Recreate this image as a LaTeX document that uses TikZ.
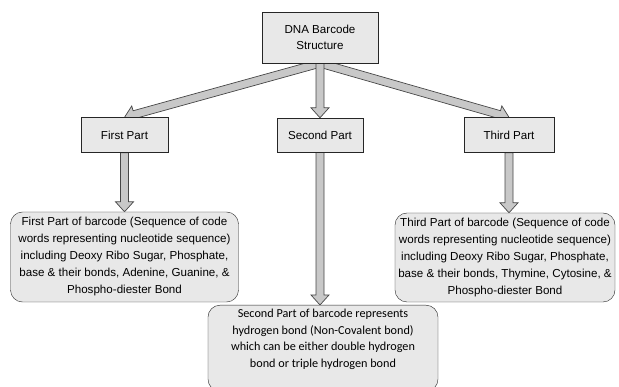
\documentclass[tikz,border=0pt]{standalone}
\usepackage{fontspec}
\setmainfont{Liberation Sans}
\newfontfamily\carlito{Carlito}
\usetikzlibrary{positioning,calc,backgrounds}
\definecolor{boxgray}{RGB}{232,232,232}
\definecolor{arrowgray}{RGB}{200,200,200}
\definecolor{edgegray}{RGB}{70,70,70}
\tikzset{
  part/.style={draw=black!85, fill=boxgray, inner sep=0pt, font=\fontsize{11.6}{14}\selectfont},
  detail/.style={draw=black!85, fill=boxgray, rounded corners=12pt, align=center, inner sep=0pt, font=\fontsize{11.6}{17}\selectfont},
  hollow/.style={draw=edgegray, fill=arrowgray, line width=0.7pt}
}
% block arrow from #1 to #2
\newcommand{\fatarrow}[2]{%
  \path[hollow] let \p1=($(#2)-(#1)$), \n1={veclen(\x1,\y1)}, \n2={atan2(\y1,\x1)} in
    [shift={(#1)}, rotate=\n2]
    (0pt,-4pt) -- (\n1-10pt,-4pt) -- (\n1-10pt,-9pt) -- (\n1,0pt)
    -- (\n1-10pt,9pt) -- (\n1-10pt,4pt) -- (0pt,4pt) -- cycle;}

\begin{document}
\begin{tikzpicture}[x=1pt, y=-1pt, node distance=97.5pt, on grid]
  \useasboundingbox (0,0) rectangle (619,387);

  \node[part, minimum width=86pt, minimum height=34pt] (second) at (320,135) {Second Part};
  \node[part, minimum width=116pt, minimum height=51pt, align=center,
        font=\fontsize{11.6}{16}\selectfont] (dna) [above=of second] {DNA Barcode\\Structure};
  \node[part, minimum width=87pt, minimum height=35pt] (first) [left=195.5pt of second] {First Part};
  \node[part, minimum width=90pt, minimum height=35pt] (third) [right=189pt of second] {Third Part};

  \node[detail, minimum width=228pt, minimum height=90pt] (firstinfo) [below=122pt of first]
    {First Part of barcode (Sequence of code\\words representing nucleotide sequence)\\including Deoxy Ribo Sugar, Phosphate,\\base \& their bonds, Adenine, Guanine, \&\\Phospho-diester Bond};
  \node[detail, minimum width=220pt, minimum height=89pt] (thirdinfo) at (505,257.5)
    {Third Part of barcode (Sequence of code\\words representing nucleotide sequence)\\including Deoxy Ribo Sugar, Phosphate,\\base \& their bonds, Thymine, Cytosine, \&\\Phospho-diester Bond};
  \node[detail, font=\carlito\fontsize{12.2}{16.5}\selectfont, minimum width=230pt,
        inner sep=4pt, text depth=20pt, anchor=north] (secondinfo) at (323,305)
    {Second Part of barcode represents\\hydrogen bond (Non-Covalent bond)\\which can be either double hydrogen\\bond or triple hydrogen bond};

  \coordinate (midtip) at (second.south |- secondinfo.north);
  \coordinate (righttip) at (third.south |- thirdinfo.north);

  \begin{pgfonlayer}{background}
    \fatarrow{dna.south}{first.north}
    \fatarrow{dna.south}{third.north}
    \fatarrow{dna.south}{second.north}
    \fatarrow{first.south}{firstinfo.north}
    \fatarrow{second.south}{midtip}
    \fatarrow{third.south}{righttip}
  \end{pgfonlayer}
\end{tikzpicture}
\end{document}
